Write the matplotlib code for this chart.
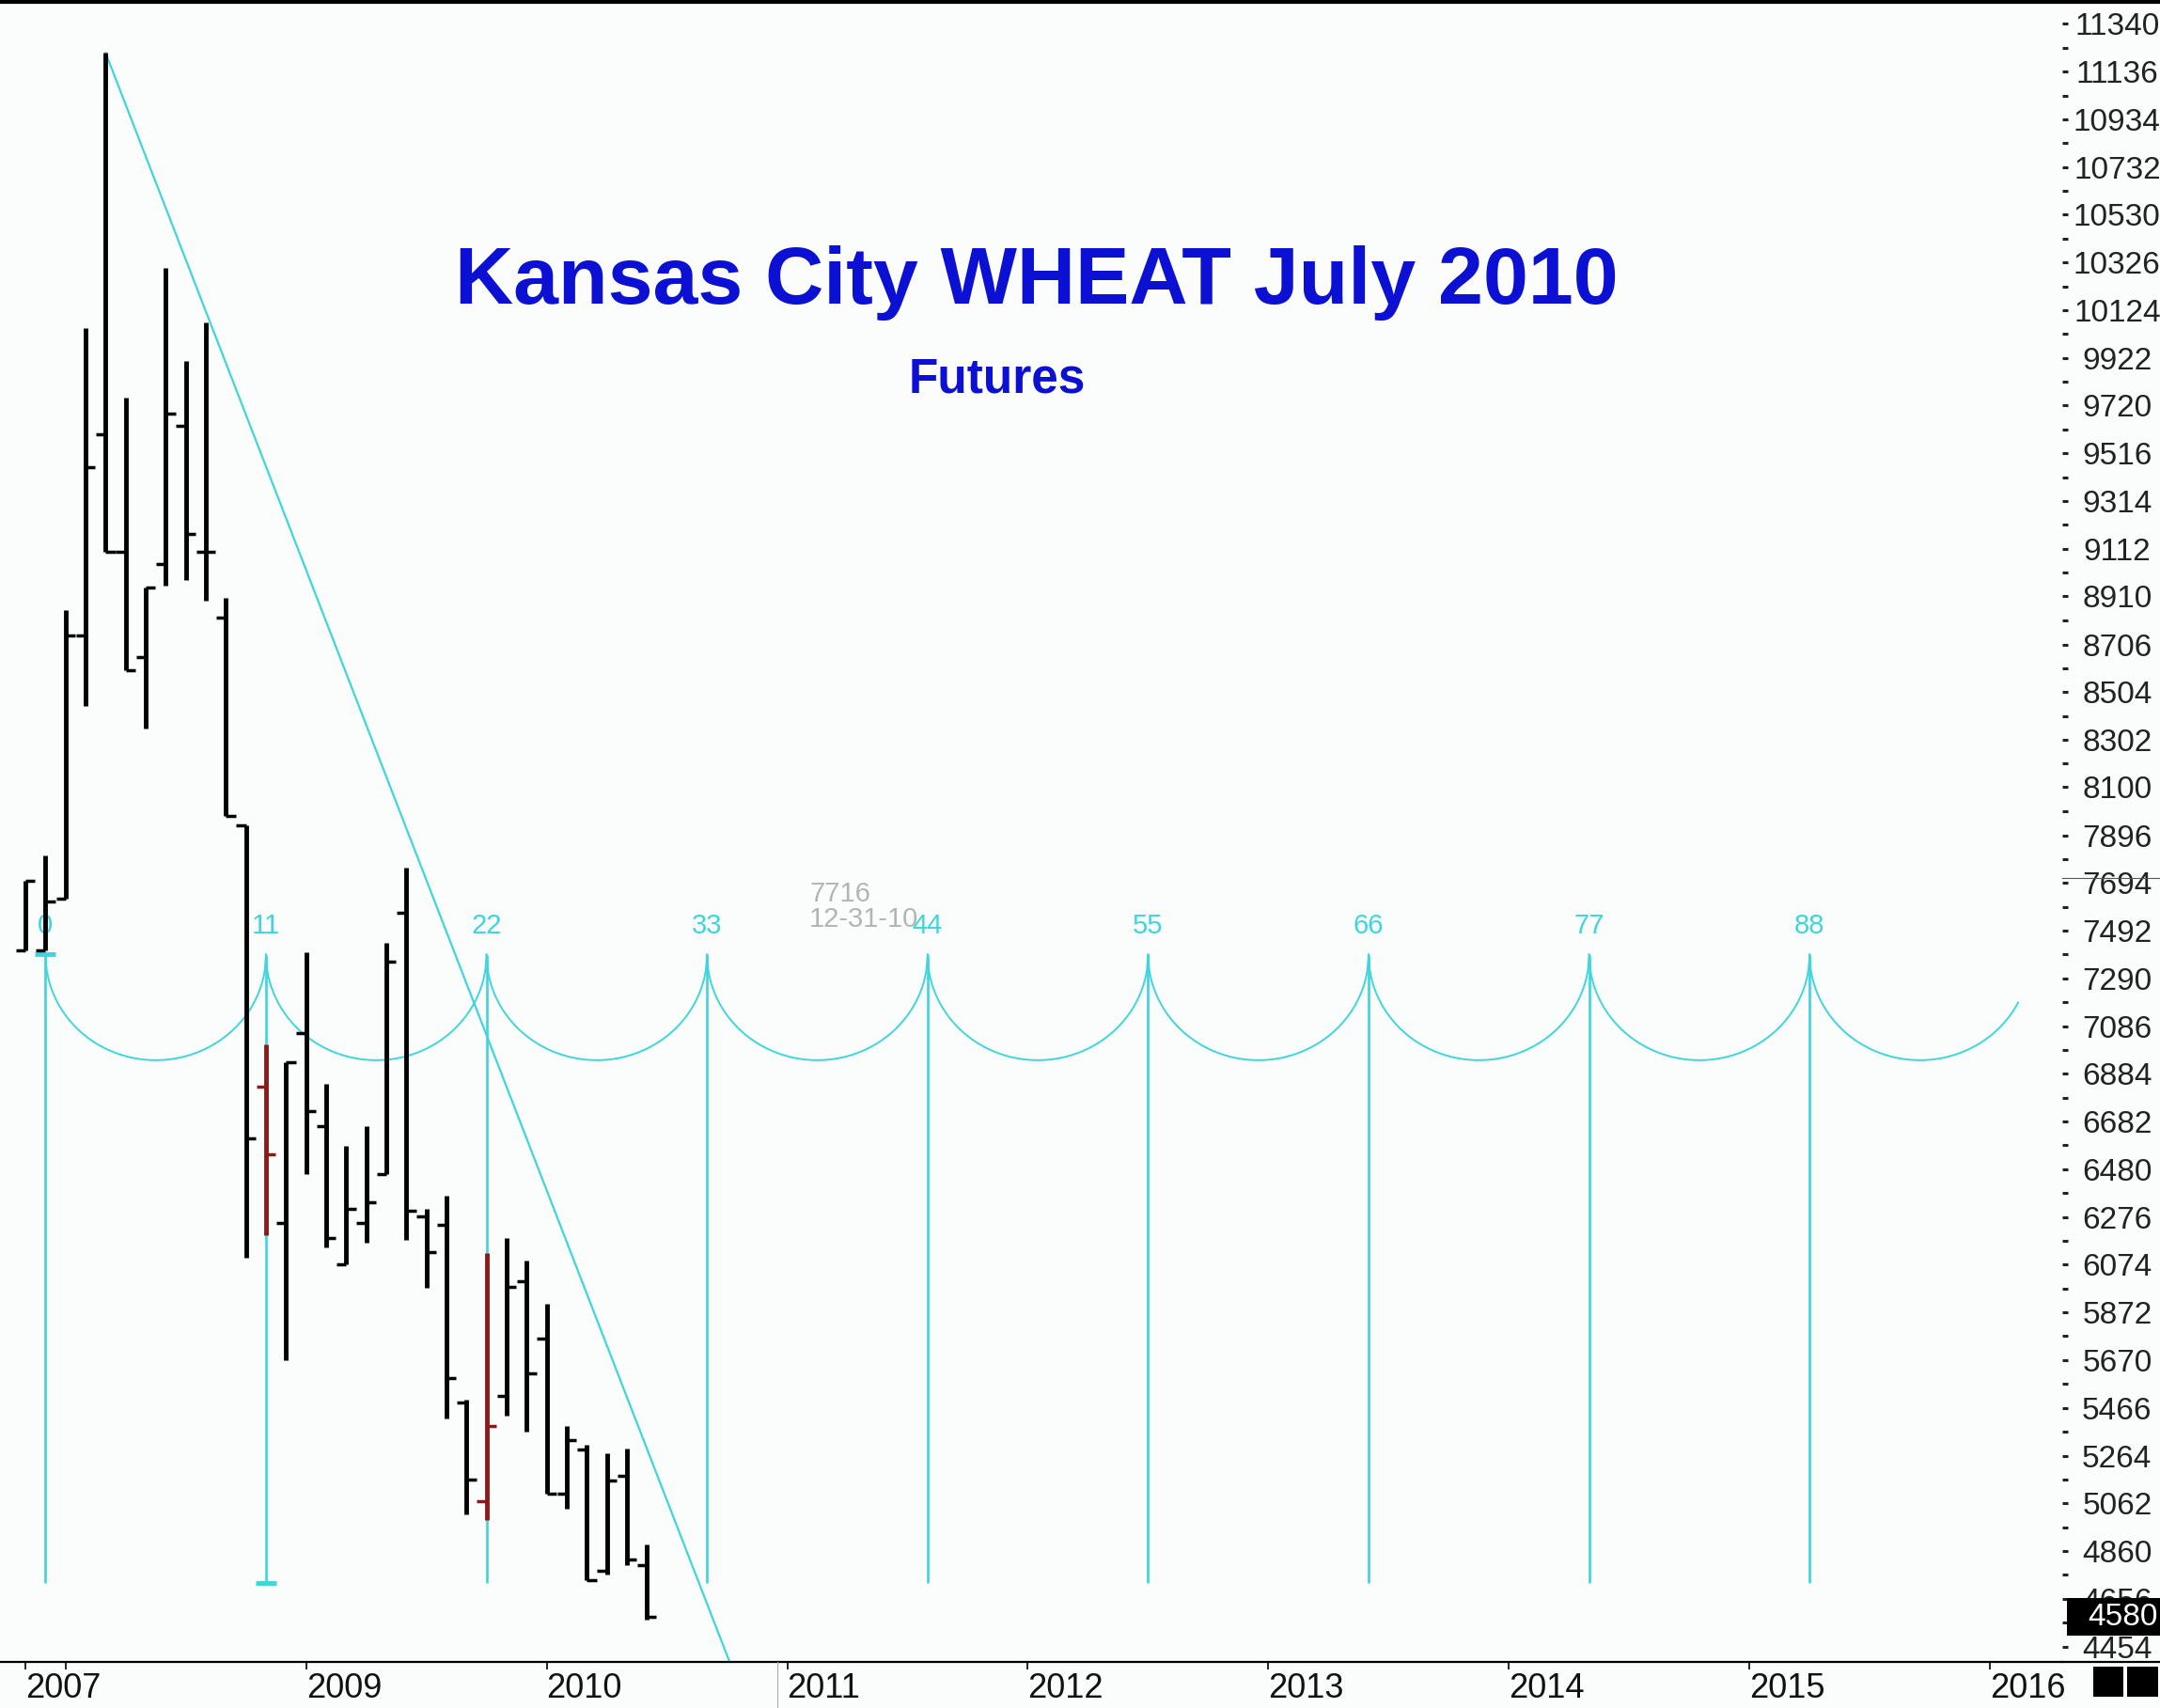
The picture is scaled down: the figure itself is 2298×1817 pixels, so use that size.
import numpy as np
import matplotlib
matplotlib.use("Agg")
import matplotlib.pyplot as plt
from matplotlib import transforms
from matplotlib.patches import Rectangle
from matplotlib.lines import Line2D

# ---------------- data ----------------
# monthly bars, Nov 2007 .. Jun 2010 (bar index 0..31)
months = ["2007-11", "2007-12", "2008-01", "2008-02", "2008-03", "2008-04", "2008-05",
          "2008-06", "2008-07", "2008-08", "2008-09", "2008-10", "2008-11", "2008-12",
          "2009-01", "2009-02", "2009-03", "2009-04", "2009-05", "2009-06", "2009-07",
          "2009-08", "2009-09", "2009-10", "2009-11", "2009-12", "2010-01", "2010-02",
          "2010-03", "2010-04", "2010-05", "2010-06"]
opens = [7408, 7408, 7627, 8745, 9599, 9099, 8652, 9047, 9634, 9099, 8818, 7938,
         6828, 6253, 7057, 6662, 6076, 6253, 6460, 7567, 6279, 6245, 5490, 5071,
         5516, 6004, 5762, 5102, 5290, 4777, 5178, 4801]
highs = [7705, 7809, 8853, 10049, 11215, 9753, 8949, 10305, 9910, 10073, 8903, 7938,
         7010, 6935, 7399, 6842, 6577, 6662, 7438, 7757, 6310, 6369, 5503, 6123,
         6187, 6090, 5908, 5390, 5311, 5275, 5294, 4887]
lows = [7408, 7408, 7627, 8445, 9099, 8597, 8351, 8955, 8979, 8893, 7978, 6104,
        6201, 5669, 6460, 6149, 6076, 6168, 6460, 6180, 5976, 5423, 5014, 4992,
        5434, 5366, 5102, 5038, 4737, 4759, 4801, 4569]
closes = [7705, 7614, 8745, 9456, 9099, 8597, 8949, 9685, 9174, 9099, 7978, 6610,
          6543, 6935, 6725, 6188, 6310, 6339, 7362, 6305, 6128, 5592, 5162, 5390,
          5980, 5612, 5102, 5330, 4737, 5157, 4824, 4580]
highlight_bars = [12, 23]          # bars drawn in dark red (cycle hits)

# y-axis labels (as printed by the charting package)
ytick_values = [11340, 11136, 10934, 10732, 10530, 10326, 10124, 9922, 9720, 9516,
                9314, 9112, 8910, 8706, 8504, 8302, 8100, 7896, 7694, 7492, 7290,
                7086, 6884, 6682, 6480, 6276, 6074, 5872, 5670, 5466, 5264, 5062,
                4860, 4656, 4454]
# x-axis year ticks (bar index) and labels
year_ticks = [0, 2, 14, 26, 38, 50, 62, 74, 86, 98]
year_labels = ["2007", "", "2009", "2010", "2011", "2012", "2013", "2014", "2015", "2016"]

# 11-month cycle tool
cycle_start = 1
cycle_len = 11
cycle_labels = ["0", "11", "22", "33", "44", "55", "66", "77", "88"]
cycle_top = 7390
cycle_arc_bottom = 6942
cycle_line_bottom = 4724
cycle_label_y = 7511
cycle_arc_end = 99.4
cycle_markers_x = [1, 12]
cycle_markers_y = [7393, 4724]

# trend line (drawn from the March 2008 high)
trend_x = [4, 36]
trend_y = [11215, 4197]

# info box / price marker
info_value = "7716"
info_date = "12-31-10"
info_level = 7716
last_price = 4580

# ---------------- style ----------------
BG = "#fbfdfd"
CYAN = "#3fd5dc"
RED = "#8b1a1a"
BLUE = "#0c10d2"
NARROW = ["Liberation Sans Narrow", "Liberation Sans", "DejaVu Sans"]
plt.rcParams["font.family"] = ["Liberation Sans", "DejaVu Sans"]

W, H = 2298, 1817
fig = plt.figure(figsize=(W / 100, H / 100), dpi=100, facecolor=BG)
ax_left, ax_right = 0, 2194
ax_top, ax_bot = 4, 1768
ax = fig.add_axes([ax_left / W, (H - ax_bot) / H, (ax_right - ax_left) / W,
                   (ax_bot - ax_top) / H])
ax.set_facecolor(BG)
ax.set_xlim(-1.27, 101.6)
ax.set_ylim(4389, 11424)

# ---- cycle tool ----
n_cycles = len(cycle_labels)
for k in range(n_cycles):
    xc = cycle_start + k * cycle_len
    ax.vlines(xc, cycle_line_bottom, cycle_top, color=CYAN, lw=1.9, zorder=2)
    ax.text(xc, cycle_label_y, cycle_labels[k], color=CYAN, fontsize=21,
            family=NARROW, ha="center", va="center", zorder=2)
    x0, x1 = xc, xc + cycle_len
    xe = min(x1, cycle_arc_end)
    xs = np.linspace(x0, xe, 200)
    u = (xs - (x0 + x1) / 2) / (cycle_len / 2)
    ys = cycle_top - (cycle_top - cycle_arc_bottom) * np.sqrt(np.clip(1 - u ** 2, 0, 1))
    ax.plot(xs, ys, color=CYAN, lw=1.4, zorder=2)
ax.plot(cycle_markers_x, cycle_markers_y, ls="none", marker="_", color=CYAN,
        markersize=16, mew=3.5, zorder=2)

# ---- trend line ----
ax.plot(trend_x, trend_y, color=CYAN, lw=1.6, zorder=2)

# ---- OHLC bars ----
tick_len = 0.48
for i in range(len(months)):
    c = RED if i in highlight_bars else "black"
    ax.vlines(i, lows[i], highs[i], color=c, lw=3.5, zorder=4, capstyle="butt")
    ax.hlines(opens[i], i - tick_len, i, color=c, lw=2.5, zorder=4)
    ax.hlines(closes[i], i, i + tick_len, color=c, lw=2.5, zorder=4)

# ---- info text ----
ax.text(39.1, 7595, info_value + "\n" + info_date, color="#b4b4b4", fontsize=21,
        family=NARROW, ha="left", va="center", linespacing=0.95, zorder=3)

# ---- title ----
fig.text(1103 / W, 1 - 323 / H, "Kansas City WHEAT July 2010", color=BLUE,
         fontsize=62, fontweight="bold", ha="center", va="baseline")
fig.text(1061 / W, 1 - 418 / H, "Futures", color=BLUE, fontsize=37,
         fontweight="bold", ha="center", va="baseline")

# ---- axes styling ----
for s in ["left", "right", "top"]:
    ax.spines[s].set_visible(False)
ax.spines["bottom"].set_linewidth(1.6)
ax.spines["bottom"].set_color("black")

ax.yaxis.tick_right()
ax.set_yticks(ytick_values)
ax.set_yticklabels([str(v) for v in ytick_values])
mids = [(a + b) / 2 for a, b in zip(ytick_values[:-1], ytick_values[1:])]
ax.set_yticks(mids, minor=True)
ax.tick_params(axis="y", which="both", direction="out", length=4, width=2.2,
               color="#222222", pad=38, labelsize=24, labelcolor="#222222")
for lab in ax.get_yticklabels():
    lab.set_horizontalalignment("center")

ax.set_xticks(year_ticks)
ax.set_xticklabels(year_labels)
ax.tick_params(axis="x", direction="out", length=6, width=1.2, color="black",
               pad=2, labelsize=26, labelcolor="#111111")
for lab in ax.get_xticklabels():
    lab.set_horizontalalignment("left")
    lab.set_family(NARROW)

# ---- price marker box and level line at the right margin ----
bt = transforms.blended_transform_factory(ax.transAxes, ax.transData)
ax.add_patch(Rectangle((1.0025, last_price - 80), 0.06, 160, transform=bt,
                       facecolor="black", edgecolor="none", clip_on=False, zorder=6))
ax.text(1.0292, last_price, str(last_price), transform=bt, color="white",
        fontsize=24, ha="center", va="center", clip_on=False, zorder=7)
ax.plot([1.0, 1.06], [info_level, info_level], transform=bt, color="#555555",
        lw=0.8, clip_on=False, zorder=5)

# ---- frame decorations ----
fig.add_artist(Line2D([0, 1], [1 - 2 / H, 1 - 2 / H], color="black", lw=3.0))
fig.add_artist(Line2D([ax_right / W, 1], [(H - ax_bot) / H, (H - ax_bot) / H],
                      color="black", lw=1.6))
fig.add_artist(Line2D([827 / W, 827 / W], [0, (H - ax_bot) / H], color="#aaaaaa", lw=0.8))
fig.add_artist(Rectangle((2227 / W, (H - 1805) / H), 32 / W, 32 / H,
                         facecolor="black", edgecolor="none"))
fig.add_artist(Rectangle((2263 / W, (H - 1805) / H), 33 / W, 32 / H,
                         facecolor="black", edgecolor="none"))

fig.savefig("out.png", dpi=100, facecolor=BG)
